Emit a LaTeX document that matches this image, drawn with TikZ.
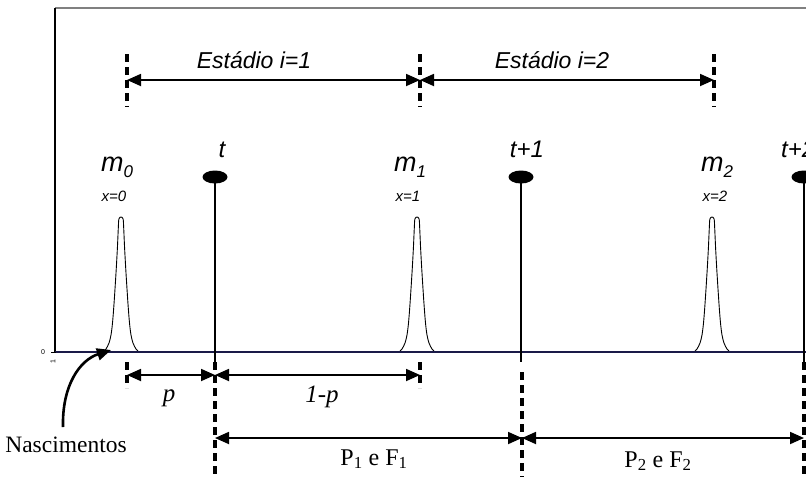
\documentclass[tikz,border=0pt]{standalone}
\usepackage{fontspec}
\setmainfont{Liberation Serif}
\setsansfont{Liberation Sans}
\usetikzlibrary{arrows.meta,shapes.geometric}
\definecolor{navy}{HTML}{1A1A48}
\newcommand{\msub}[1]{\raisebox{-6pt}{\fontsize{17}{17}\selectfont #1}}
\tikzset{
  dimline/.style={line width=1.8pt,{Triangle[length=14pt,width=12pt]}-{Triangle[length=14pt,width=12pt]}},
  dashv/.style={line width=3.2pt,dash pattern=on 8pt off 5pt},
  stick/.style={line width=1.8pt},
  blob/.style={ellipse,fill=black,minimum width=25pt,minimum height=13pt,inner sep=0pt},
  sanslab/.style={font=\sffamily\itshape\fontsize{23}{26}\selectfont,inner sep=0pt,anchor=base},
  tlab/.style={font=\sffamily\itshape\fontsize{24}{27}\selectfont,inner sep=0pt,anchor=base},
  mlab/.style={font=\sffamily\itshape\fontsize{27}{30}\selectfont,inner sep=0pt,anchor=base},
  xlab/.style={font=\sffamily\itshape\fontsize{15}{17}\selectfont,inner sep=0pt,anchor=base},
  serlab/.style={font=\rmfamily\fontsize{24}{27}\selectfont,inner sep=0pt,anchor=base},
  serit/.style={font=\rmfamily\itshape\fontsize{25}{28}\selectfont,inner sep=0pt,anchor=base},
  peak/.style={line width=0.9pt,fill=white}
}
\begin{document}
\begin{tikzpicture}[x=1pt,y=-1pt]
\useasboundingbox (0,0) rectangle (806,477);
\clip (0,0) rectangle (806,477);
% frame
\draw[line width=1.2pt,gray] (55,8) -- (810,8);
\draw[line width=1.2pt] (55,8) -- (55,352);
\node[font=\sffamily\fontsize{7}{8}\selectfont,inner sep=0pt] (zero) at (43,352) {0};
\node[font=\sffamily\fontsize{7}{8}\selectfont,inner sep=0pt,rotate=90] (one) at (53,362) {1};
% peaks
\foreach \c/\nm in {121/pk0,417/pk1,712/pk2}{
  \begin{scope}[shift={(\c,352)}]
  \draw[peak] plot[smooth,tension=0.5] coordinates {(-18,0) (-15,-3) (-12,-9) (-10,-17) (-8.5,-29) (-7,-48) (-5,-79) (-3.6,-104) (-2.7,-124) (-2.1,-133) (0,-135) (2.1,-133) (2.7,-124) (3.6,-104) (5,-79) (7,-48) (8.5,-29) (10,-17) (12,-9) (15,-3) (18,0)};
  \end{scope}
  \coordinate (\nm) at (\c,217);
}
% baseline
\draw[line width=2.2pt,navy] (55,352) -- (810,352);
\draw[line width=0.8pt] (51,352) -- (56,352);
% top dashed markers
\foreach \xx/\nm in {127/a0,420/a1,714/a2}{
  \draw[dashv] (\xx,54) -- (\xx,107);
  \coordinate (\nm) at (\xx,80);
}
\draw[dimline] (a0) -- (a1);
\draw[dimline] (a1) -- (a2);
\node[sanslab] (st1) at (254,68) {Estádio i=1};
\node[sanslab] (st2) at (552,68) {Estádio i=2};
% time sticks
\foreach \xx/\nm in {215/e0,521/e1,804/e2}{
  \node[blob] (\nm) at (\xx,177) {};
  \draw[stick] (\nm.center) -- (\xx,362);
}
\node[tlab] (tt0) at (222,157) {t};
\node[tlab] (tt1) at (527,157) {t+1};
\node[tlab,anchor=base west] (tt2) at (781,157) {t+2};
% m labels
\node[mlab] (m0) at (117,171) {m\msub{0}};
\node[mlab] (m1) at (410,171) {m\msub{1}};
\node[mlab] (m2) at (717,171) {m\msub{2}};
\node[xlab] (x0) at (114,201) {x=0};
\node[xlab] (x1) at (408,201) {x=1};
\node[xlab] (x2) at (715,201) {x=2};
% bottom dashed markers
\draw[dashv] (127,362) -- (127,388);
\draw[dashv] (420,362) -- (420,388);
\draw[dashv] (215,362) -- (215,477);
\draw[dashv] (522,372) -- (522,477);
\draw[dashv] (804,362) -- (804,477);
\coordinate (b0) at (127,375);
\coordinate (b1) at (215,375);
\coordinate (b2) at (420,375);
\coordinate (c0) at (215,438);
\coordinate (c1) at (522,438);
\coordinate (c2) at (804,438);
\draw[dimline] (b0) -- (b1);
\draw[dimline] (b1) -- (b2);
\draw[dimline] (c0) -- (c1);
\draw[dimline] (c1) -- (c2);
\node[serit] (lp) at (169,401) {p};
\node[serit] (l1p) at (322,402) {1-p};
\node[serlab] (lpf1) at (374,465) {P$_{\mathrm{1}}$ e F$_{\mathrm{1}}$};
\node[serlab] (lpf2) at (658,467) {P$_{\mathrm{2}}$ e F$_{\mathrm{2}}$};
% Nascimentos
\node[font=\rmfamily\fontsize{23.5}{26}\selectfont,inner sep=0pt,anchor=base] (nasc) at (66,452) {Nascimentos};
\coordinate (nstart) at (63,427);
\coordinate (ntip) at (111,350);
\draw[line width=2.6pt,-{Triangle[length=14pt,width=12pt]}] (nstart) .. controls (62,385) and (80,360) .. (ntip);
\end{tikzpicture}
\end{document}
